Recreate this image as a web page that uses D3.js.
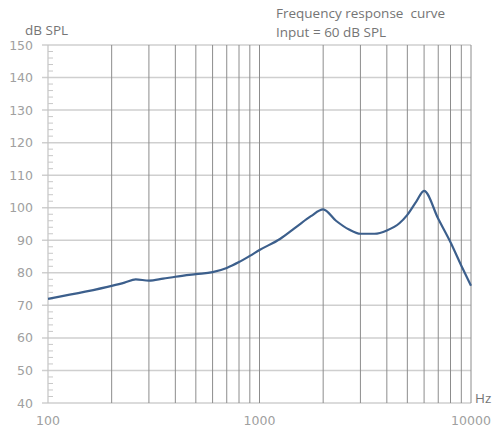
<!DOCTYPE html>
<html>
<head>
<meta charset="utf-8">
<script src="https://cdn.jsdelivr.net/npm/d3@7"></script>
<style>
  html, body { margin: 0; padding: 0; background: #fff; }
  svg { display: block; }
</style>
</head>
<body>
<svg id="chart" width="496" height="432"></svg>
<script>
const freqs = [100, 150, 200, 230, 260, 300, 350, 400, 500, 600, 700, 800, 900, 1000, 1250, 1500, 1750, 2000, 2300, 2650, 3000, 3500, 4000, 4600, 5000, 5500, 6000, 7000, 8000, 9000, 10000];
const dbValues = [72.0, 74.2, 76.0, 77.0, 78.0, 77.6, 78.2, 78.8, 79.6, 80.2, 81.5, 83.3, 85.2, 87.0, 90.4, 94.2, 97.4, 99.5, 96.0, 93.3, 92.0, 92.0, 93.0, 95.3, 97.8, 101.8, 105.2, 96.6, 89.4, 82.2, 76.0];
const yTicks = [40, 50, 60, 70, 80, 90, 100, 110, 120, 130, 140, 150];
const xTickLabels = [100, 1000, 10000];
const xGridFreqs = [200, 300, 400, 500, 600, 700, 800, 900, 1000, 2000, 3000, 4000, 5000, 6000, 7000, 8000, 9000, 10000];

const svg = d3.select("#chart");
const margin = {left: 48, right: 25, top: 45, bottom: 29};
const W = 496, H = 432;
const x = d3.scaleLog().domain([100, 10000]).range([margin.left, W - margin.right]);
const y = d3.scaleLinear().domain([40, 150]).range([H - margin.bottom, margin.top]);

// horizontal gridlines
svg.append("g").selectAll("line").data(yTicks).join("line")
  .attr("x1", margin.left - 6).attr("x2", x(10000))
  .attr("y1", d => y(d)).attr("y2", d => y(d))
  .attr("stroke", "#cfcfcf").attr("stroke-width", 1.5);

// vertical gridlines
svg.append("g").selectAll("line").data(xGridFreqs).join("line")
  .attr("x1", d => x(d)).attr("x2", d => x(d))
  .attr("y1", y(150)).attr("y2", y(40))
  .attr("stroke", "#8c8c8c").attr("stroke-width", 1);

// left axis with minor ticks
const minor = d3.range(40, 151, 2).filter(v => v % 10 !== 0);
svg.append("line").attr("x1", margin.left).attr("x2", margin.left)
  .attr("y1", y(150)).attr("y2", y(40)).attr("stroke", "#c4c4c4").attr("stroke-width", 1.2);
svg.append("g").selectAll("line").data(minor).join("line")
  .attr("x1", margin.left).attr("x2", margin.left + 5)
  .attr("y1", d => y(d)).attr("y2", d => y(d))
  .attr("stroke", "#c8c8c8").attr("stroke-width", 1);

// y tick labels
svg.append("g").selectAll("text").data(yTicks).join("text")
  .attr("x", 33).attr("y", d => y(d)).attr("dy", "0.36em")
  .attr("text-anchor", "end")
  .attr("font-family", "DejaVu Sans, sans-serif").attr("font-size", 12.5)
  .attr("fill", "#a0a0a0").text(d => d);

// x tick labels
svg.append("g").selectAll("text").data(xTickLabels).join("text")
  .attr("x", d => x(d)).attr("y", 425)
  .attr("text-anchor", "middle")
  .attr("font-family", "DejaVu Sans, sans-serif").attr("font-size", 12.5)
  .attr("fill", "#a0a0a0").text(d => d);

// curve
const line = d3.line().x((d, i) => x(freqs[i])).y(d => y(d)).curve(d3.curveMonotoneX);
svg.append("path").datum(dbValues).attr("d", line)
  .attr("fill", "none").attr("stroke", "#3c5f8c").attr("stroke-width", 2.2)
  .attr("stroke-linejoin", "round");

// titles
const tf = "Open Sans, sans-serif";
const fs = 13.5;
svg.append("text").attr("x", 25).attr("y", 35).attr("font-family", tf).attr("font-size", fs)
  .attr("fill", "#757575").text("dB SPL");
svg.append("text").attr("x", 276).attr("y", 18).attr("font-family", tf).attr("font-size", fs)
  .attr("fill", "#757575").style("white-space", "pre").text("Frequency response  curve");
svg.append("text").attr("x", 276).attr("y", 37).attr("font-family", tf).attr("font-size", fs)
  .attr("fill", "#757575").text("Input = 60 dB SPL");
svg.append("text").attr("x", 475).attr("y", 403).attr("font-family", tf).attr("font-size", fs)
  .attr("fill", "#757575").text("Hz");
</script>
</body>
</html>
